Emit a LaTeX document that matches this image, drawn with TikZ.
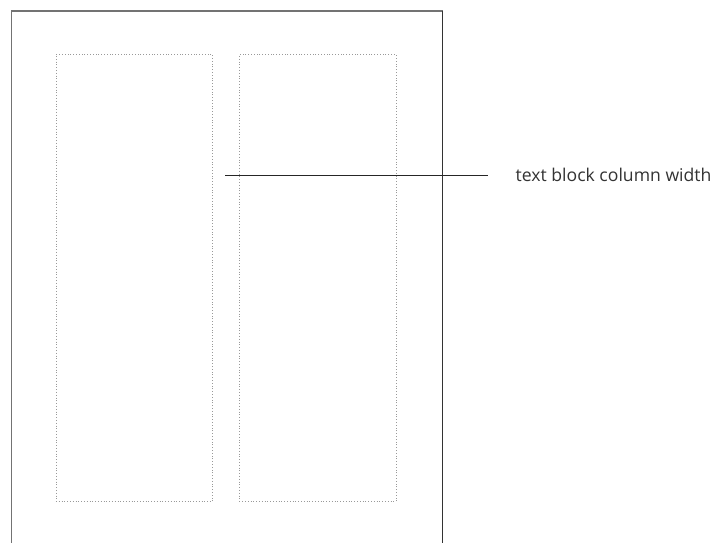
\documentclass[tikz,border=0pt]{standalone}
\usepackage{fontspec}
\setmainfont{Open Sans}
\begin{document}
\begin{tikzpicture}[x=1pt,y=-1pt,
  pageedge/.style={draw=black!80,line width=1pt},
  pageshade/.style={draw=black!55,line width=1.6pt},
  colbox/.style={draw=black!40,line width=0.8pt,dotted},
  leader/.style={draw=black!85,line width=1pt},
  lbl/.style={font=\fontsize{17.6}{20}\selectfont,text=black!80,inner sep=0pt,anchor=west}]
\useasboundingbox (0,0) rectangle (715,543);
\fill[white] (0,0) rectangle (715,543);
% page outline (open at bottom)
\coordinate (pbl) at (11.5,543);
\coordinate (ptl) at (11.5,11);
\coordinate (ptr) at (442.5,11);
\coordinate (pbr) at (442.5,543);
\draw[pageshade] (pbl) -- (ptl) -- (ptr);
\draw[pageedge] (ptr) -- (pbr);
% columns
\node[colbox,minimum width=156.5pt,minimum height=447pt,inner sep=0pt,anchor=north west] (colA) at (55.5,54) {};
\node[colbox,minimum width=156.5pt,minimum height=447pt,inner sep=0pt,anchor=north west] (colB) at (239,54) {};
% label and leader
\node[lbl] (label) at (515.5,174.5) {text block column width};
\coordinate (lstart) at (225,175.5);
\draw[leader] (lstart) -- ([xshift=-27.5pt]label.west |- lstart);
\end{tikzpicture}
\end{document}
